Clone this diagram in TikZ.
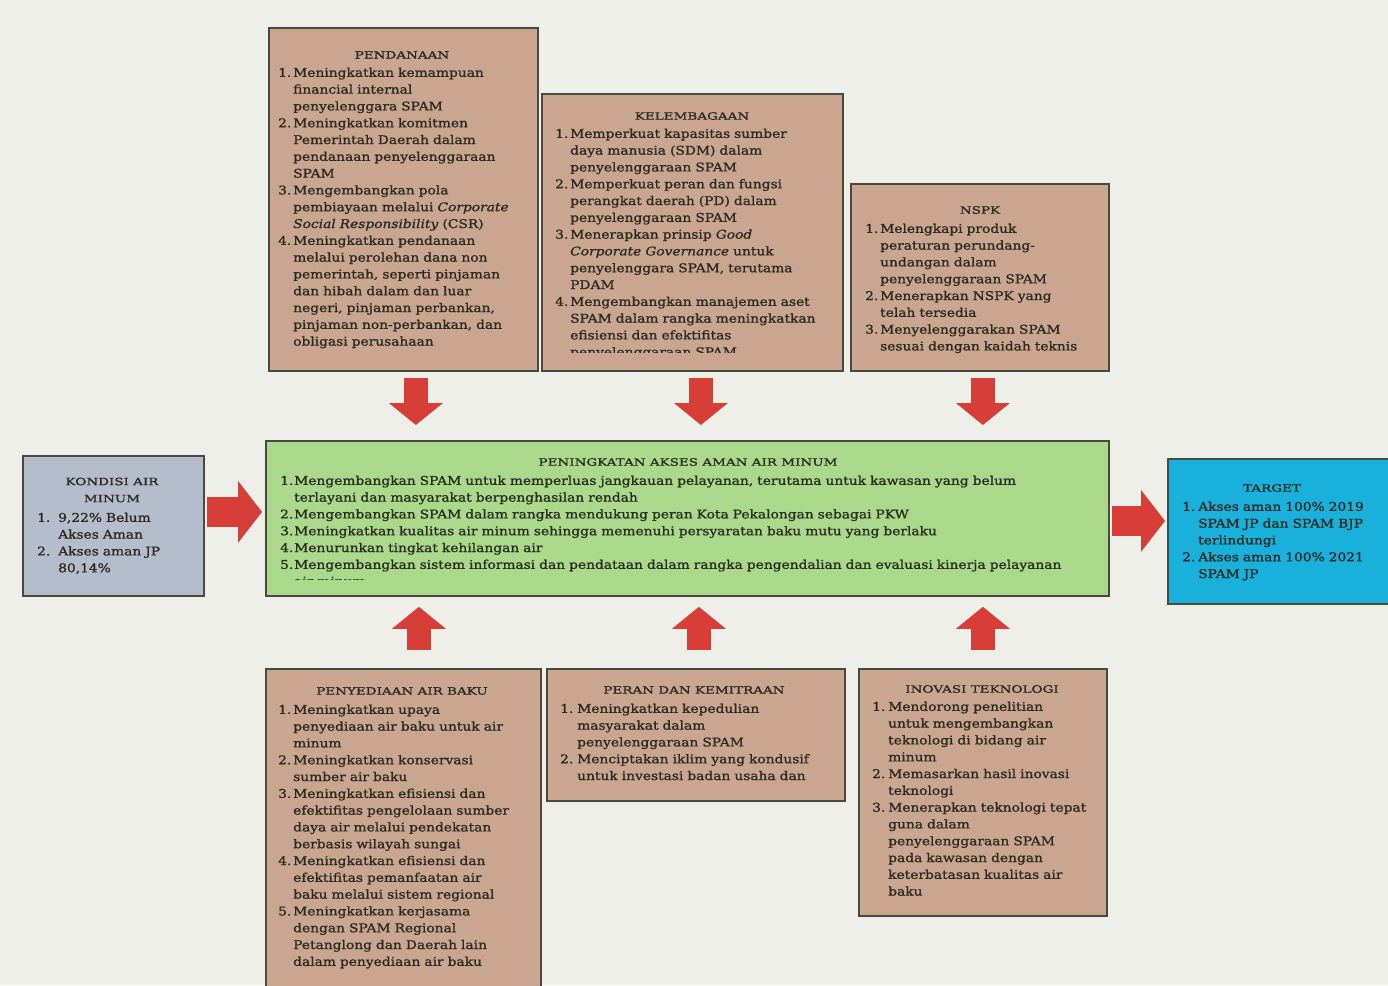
\documentclass[tikz,border=0pt]{standalone}
\usepackage{fontspec}
\setmainfont[FakeStretch=1.15,FakeBold=1.2]{DejaVu Serif}
\newfontfamily\ttlfam[FakeStretch=1.35,FakeBold=1.5]{DejaVu Serif}
\usetikzlibrary{arrows.meta,calc}
\definecolor{bgcol}{RGB}{238,239,232}
\definecolor{tancol}{RGB}{202,166,144}
\definecolor{greencol}{RGB}{170,217,140}
\definecolor{graycol}{RGB}{181,189,204}
\definecolor{cyancol}{RGB}{26,176,220}
\definecolor{edgecol}{RGB}{72,74,64}
\definecolor{arrcol}{RGB}{214,62,55}
\definecolor{txtcol}{RGB}{42,42,32}
\newlength\numw
\newcommand\li[2]{\par\noindent\hangindent=\numw\hangafter=1\makebox[\numw][l]{#1}#2\par}
\newcommand\bodyf{\fontsize{12}{16.8}\selectfont}
\newcommand\ttlf{\ttlfam\fontsize{10}{17}\selectfont}
\begin{document}
\begin{tikzpicture}[x=1pt,y=-1pt,
  box/.style={draw=edgecol, line width=1.8pt, anchor=north west, inner sep=0pt},
  ttl/.style={font=\ttlf, text=txtcol, inner sep=0pt, anchor=center, align=center},
  body/.style={font=\bodyf, text=txtcol, inner sep=0pt, anchor=base west, align=left},
  vArr/.style={draw=arrcol, line width=24pt, -{Triangle[width=54pt,length=22pt,line width=0pt]}},
  hArr/.style={draw=arrcol, line width=30pt, -{Triangle[width=62pt,length=24pt,line width=0pt]}}]
\useasboundingbox (0,0) rectangle (1388,985);
\fill[bgcol] (0,0) rectangle (1388,985);

% ---------- boxes ----------
\node[box, fill=tancol, minimum width=269pt, minimum height=343pt] (pend) at (268,27) {};
\node[box, fill=tancol, minimum width=301pt, minimum height=277pt] (kel) at (541,93) {};
\node[box, fill=tancol, minimum width=258pt, minimum height=187pt] (nspk) at (850,183) {};
\node[box, fill=greencol, minimum width=843pt, minimum height=155pt] (green) at (265,440) {};
\node[box, fill=graycol, minimum width=181pt, minimum height=140pt] (cond) at (22,455) {};
\node[box, fill=cyancol, minimum width=230pt, minimum height=145pt] (target) at (1167,458) {};
\node[box, fill=tancol, minimum width=275pt, minimum height=330pt] (peny) at (265,668) {};
\node[box, fill=tancol, minimum width=298pt, minimum height=132pt] (peran) at (546,668) {};
\node[box, fill=tancol, minimum width=248pt, minimum height=247pt] (inov) at (858,668) {};

% ---------- titles ----------
\node[ttl] (pendT) at (402,55) {PENDANAAN};
\node[ttl] (kelT) at (692,116) {KELEMBAGAAN};
\node[ttl] (nspkT) at (980,210) {NSPK};
\node[ttl] (greenT) at (688,462) {PENINGKATAN AKSES AMAN AIR MINUM};
\node[ttl] (condT) at (112,490) {KONDISI AIR\\MINUM};
\node[ttl] (targetT) at (1272,488) {TARGET};
\node[ttl] (penyT) at (402,691) {PENYEDIAAN AIR BAKU};
\node[ttl] (peranT) at (694,690) {PERAN DAN KEMITRAAN};
\node[ttl] (inovT) at (982,689) {INOVASI TEKNOLOGI};

% ---------- bodies ----------
\node[body, text width=254pt] (pendB) at (278,60) {\setlength\numw{15pt}%
\li{1.}{Meningkatkan kemampuan\newline financial internal\newline penyelenggara SPAM}
\li{2.}{Meningkatkan komitmen\newline Pemerintah Daerah dalam\newline pendanaan penyelenggaraan\newline SPAM}
\li{3.}{Mengembangkan pola\newline pembiayaan melalui \textit{Corporate\newline Social Responsibility} (CSR)}
\li{4.}{Meningkatkan pendanaan\newline melalui perolehan dana non\newline pemerintah, seperti pinjaman\newline dan hibah dalam dan luar\newline negeri, pinjaman perbankan,\newline pinjaman non-perbankan, dan\newline obligasi perusahaan}};

\begin{scope}
\clip (543,95) rectangle (840,352);
\node[body, text width=282pt] (kelB) at (555,121) {\setlength\numw{15pt}%
\li{1.}{Memperkuat kapasitas sumber\newline daya manusia (SDM) dalam\newline penyelenggaraan SPAM}
\li{2.}{Memperkuat peran dan fungsi\newline perangkat daerah (PD) dalam\newline penyelenggaraan SPAM}
\li{3.}{Menerapkan prinsip \textit{Good\newline Corporate Governance} untuk\newline penyelenggara SPAM, terutama\newline PDAM}
\li{4.}{Mengembangkan manajemen aset\newline SPAM dalam rangka meningkatkan\newline efisiensi dan efektifitas\newline penyelenggaraan SPAM}};
\end{scope}

\node[body, text width=238pt] (nspkB) at (865,216) {\setlength\numw{15pt}%
\li{1.}{Melengkapi produk\newline peraturan perundang-\newline undangan dalam\newline penyelenggaraan SPAM}
\li{2.}{Menerapkan NSPK yang\newline telah tersedia}
\li{3.}{Menyelenggarakan SPAM\newline sesuai dengan kaidah teknis}};

\begin{scope}
\clip (267,442) rectangle (1106,579);
\node[body, text width=822pt] (greenB) at (280,468) {\setlength\numw{14pt}%
\li{1.}{Mengembangkan SPAM untuk memperluas jangkauan pelayanan, terutama untuk kawasan yang belum\newline terlayani dan masyarakat berpenghasilan rendah}
\li{2.}{Mengembangkan SPAM dalam rangka mendukung peran Kota Pekalongan sebagai PKW}
\li{3.}{Meningkatkan kualitas air minum sehingga memenuhi persyaratan baku mutu yang berlaku}
\li{4.}{Menurunkan tingkat kehilangan air}
\li{5.}{Mengembangkan sistem informasi dan pendataan dalam rangka pengendalian dan evaluasi kinerja pelayanan\newline air minum}};
\end{scope}

\node[body, text width=160pt] (condB) at (37,505) {\setlength\numw{21pt}%
\li{1.}{9,22\% Belum\newline Akses Aman}
\li{2.}{Akses aman JP\newline 80,14\%}};

\node[body, text width=200pt] (targetB) at (1182,494) {\setlength\numw{16pt}%
\li{1.}{Akses aman 100\% 2019\newline SPAM JP dan SPAM BJP\newline terlindungi}
\li{2.}{Akses aman 100\% 2021\newline SPAM JP}};

\node[body, text width=258pt] (penyB) at (278,697) {\setlength\numw{15pt}%
\li{1.}{Meningkatkan upaya\newline penyediaan air baku untuk air\newline minum}
\li{2.}{Meningkatkan konservasi\newline sumber air baku}
\li{3.}{Meningkatkan efisiensi dan\newline efektifitas pengelolaan sumber\newline daya air melalui pendekatan\newline berbasis wilayah sungai}
\li{4.}{Meningkatkan efisiensi dan\newline efektifitas pemanfaatan air\newline baku melalui sistem regional}
\li{5.}{Meningkatkan kerjasama\newline dengan SPAM Regional\newline Petanglong dan Daerah lain\newline dalam penyediaan air baku}};

\node[body, text width=280pt] (peranB) at (560,696) {\setlength\numw{17pt}%
\li{1.}{Meningkatkan kepedulian\newline masyarakat dalam\newline penyelenggaraan SPAM}
\li{2.}{Menciptakan iklim yang kondusif\newline untuk investasi badan usaha dan}};

\node[body, text width=230pt] (inovB) at (872,694) {\setlength\numw{16pt}%
\li{1.}{Mendorong penelitian\newline untuk mengembangkan\newline teknologi di bidang air\newline minum}
\li{2.}{Memasarkan hasil inovasi\newline teknologi}
\li{3.}{Menerapkan teknologi tepat\newline guna dalam\newline penyelenggaraan SPAM\newline pada kawasan dengan\newline keterbatasan kualitas air\newline baku}};

% ---------- arrows ----------
\draw[vArr] ($(pend.south)+(12.5,6)$) -- ($(pend.south |- green.north)+(12.5,-15)$);
\draw[vArr] ($(kel.south)+(8.5,6)$) -- ($(kel.south |- green.north)+(8.5,-15)$);
\draw[vArr] ($(nspk.south)+(3,6)$) -- ($(nspk.south |- green.north)+(3,-15)$);
\draw[vArr] ($(peny.north)+(15.5,-18)$) -- ($(peny.north |- green.south)+(15.5,10)$);
\draw[vArr] ($(peran.north)+(3,-18)$) -- ($(peran.north |- green.south)+(3,10)$);
\draw[vArr] ($(inov.north)+(0,-18)$) -- ($(inov.north |- green.south)+(0,10)$);
\draw[hArr] ($(cond.east)+(2,-14)$) -- ($(cond.east -| green.west)+(-3,-14)$);
\draw[hArr] ($(green.east)+(2,2.5)$) -- ($(green.east -| target.west)+(-2,2.5)$);
\end{tikzpicture}
\end{document}
